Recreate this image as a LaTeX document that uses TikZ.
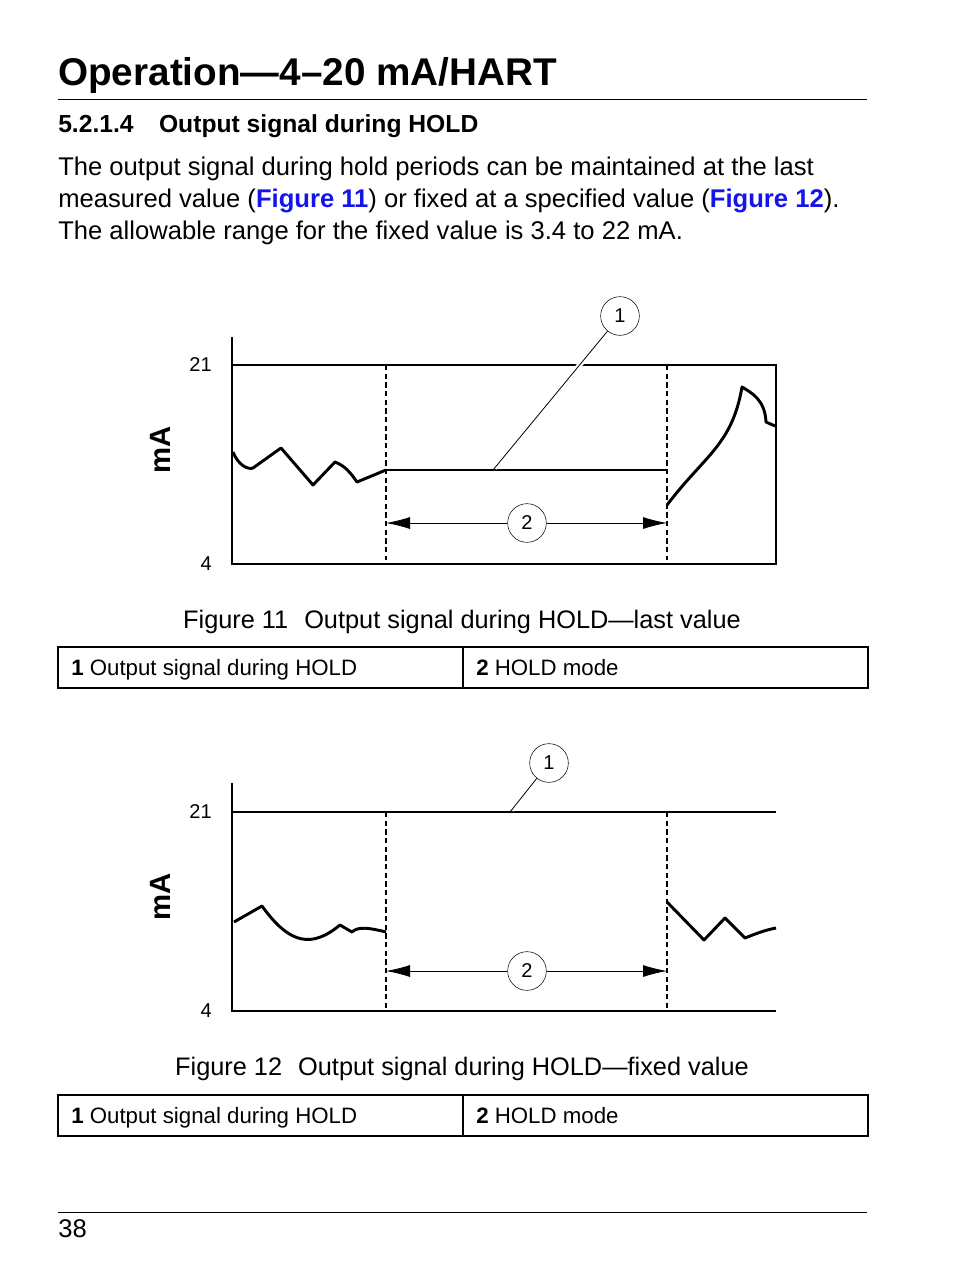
\documentclass[tikz,border=0pt]{standalone}
\usepackage{fontspec}
\setmainfont{Liberation Sans}
\usetikzlibrary{arrows.meta, positioning}
\definecolor{linkblue}{RGB}{20,20,235}
\tikzset{
	body/.style={anchor=base west, inner sep=0pt, font=\fontsize{19.2}{23}\selectfont},
	signal/.style={line width=2.2pt, line join=round},
	holdline/.style={dash pattern=on 4pt off 2.5pt, line width=0.9pt},
	callout/.style={draw, circle, fill=white, minimum size=29pt, inner sep=0pt, font=\fontsize{15}{18}\selectfont},
	span/.style={-{Latex[length=18pt, width=9pt]}, line width=0.6pt},
	tick/.style={anchor=east, inner sep=0pt, font=\fontsize{15}{18}\selectfont},
	ylabel/.style={rotate=90, font=\bfseries\fontsize{22}{26}\selectfont},
	legend/.style={anchor=base west, inner sep=0pt, font=\fontsize{16.7}{20}\selectfont},
	caption/.style={anchor=base, inner sep=0pt, font=\fontsize{19}{23}\selectfont}
}
\newcommand{\figref}[1]{\textcolor{linkblue}{\bfseries Figure #1}}
\begin{document}
\begin{tikzpicture}[x=0.75pt, y=-0.75pt]
	\useasboundingbox (0,0) rectangle (954,1272);
	% header
	\node[anchor=base west, inner sep=0pt, font=\bfseries\fontsize{29}{34}\selectfont] (title) at (58,85) {Operation—4–20 mA/HART};
	\draw[line width=0.6pt] (58,99) -- (867,99);
	\node[anchor=base west, inner sep=0pt, font=\bfseries\fontsize{18.5}{22}\selectfont] (sect) at (58,132) {5.2.1.4\hspace{19pt}Output signal during HOLD};
	\node[body] (p1) at (58,175) {The output signal during hold periods can be maintained at the last};
	\node[body] (p2) at (58,207) {measured value (\figref{11}) or fixed at a specified value (\figref{12}).};
	\node[body] (p3) at (58,239) {The allowable range for the fixed value is 3.4 to 22 mA.};

	% figure 11
	\draw[line width=0.8pt] (232,337) -- (232,564) -- (776,564) -- (776,365) -- (232,365);
	\node[tick] (hi1) at (212,365) {21};
	\node[tick] (lo1) at (212,564) {4};
	\node[ylabel] (ma1) at (160,450) {mA};
	\draw[holdline] (386,365) -- (386,560);
	\draw[holdline] (667,365) -- (667,560);
	\draw[signal] (233,452) .. controls (238,465) and (248,470) .. (253,468) -- (281,448) -- (313,485) -- (335,462)
		.. controls (345,466) and (350,472) .. (357,482) -- (386,470);
	\draw[signal] (386,470) -- (667,470);
	\draw[signal] (667,505) .. controls (705,455) and (732,445) .. (742,387)
		.. controls (752,393) and (765,400) .. (766,422) -- (775,426);
	\node[callout] (c1a) at (620,316) {1};
	\coordinate (t1a) at (493,470);
	\draw[white, line width=4pt, shorten >=2pt, shorten <=6pt] (c1a) -- (t1a);
	\draw[line width=0.6pt] (c1a) -- (t1a);
	\node[callout] (c2a) at (527,523) {2};
	\coordinate (l1) at (386,523);
	\coordinate (r1) at (667,523);
	\draw[span] (c2a) -- (l1);
	\draw[span] (c2a) -- (r1);
	\node[caption] (cap1) at (462,628) {Figure 11\hspace{12pt}Output signal during HOLD—last value};
	\draw[line width=0.8pt] (58,647) rectangle (868,688);
	\draw[line width=0.8pt] (463,647) -- (463,688);
	\node[legend] (k1a) at (71,675) {\textbf{1} Output signal during HOLD};
	\node[legend] (k2a) at (476,675) {\textbf{2} HOLD mode};

	% figure 12
	\draw[line width=0.8pt] (232,783) -- (232,1011) -- (776,1011);
	\draw[line width=0.8pt] (232,812) -- (776,812);
	\node[tick] (hi2) at (212,812) {21};
	\node[tick] (lo2) at (212,1011) {4};
	\node[ylabel] (ma2) at (160,897) {mA};
	\draw[holdline] (386,812) -- (386,1008);
	\draw[holdline] (667,812) -- (667,1008);
	\draw[signal] (234,922) -- (262,906) .. controls (290,945) and (312,948) .. (340,925)
		-- (352,932) .. controls (358,926) and (370,928) .. (386,932);
	\draw[signal] (386,812) -- (667,812);
	\draw[signal] (667,902) -- (704,940) -- (725,918) -- (745,938) .. controls (755,934) and (765,930) .. (776,928);
	\node[callout] (c1b) at (549,763) {1};
	\coordinate (t1b) at (510,812);
	\draw[white, line width=4pt, shorten >=2pt, shorten <=6pt] (c1b) -- (t1b);
	\draw[line width=0.6pt] (c1b) -- (t1b);
	\node[callout] (c2b) at (527,971) {2};
	\coordinate (l2) at (386,971);
	\coordinate (r2) at (667,971);
	\draw[span] (c2b) -- (l2);
	\draw[span] (c2b) -- (r2);
	\node[caption] (cap2) at (462,1075) {Figure 12\hspace{12pt}Output signal during HOLD—fixed value};
	\draw[line width=0.8pt] (58,1095) rectangle (868,1136);
	\draw[line width=0.8pt] (463,1095) -- (463,1136);
	\node[legend] (k1b) at (71,1123) {\textbf{1} Output signal during HOLD};
	\node[legend] (k2b) at (476,1123) {\textbf{2} HOLD mode};

	% footer
	\draw[line width=0.6pt] (58,1212) -- (867,1212);
	\node[body] (page) at (58,1237) {38};
\end{tikzpicture}
\end{document}
